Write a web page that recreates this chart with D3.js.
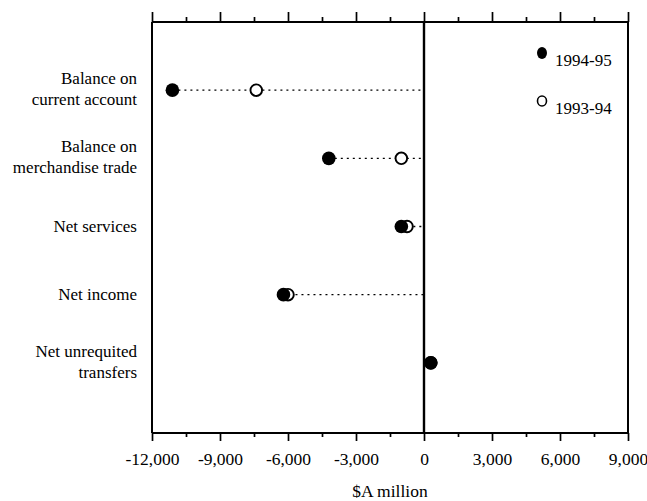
<!DOCTYPE html>
<html>
<head>
<meta charset="utf-8">
<script src="https://cdn.jsdelivr.net/npm/d3@7"></script>
<style>
  html, body { margin: 0; padding: 0; background: #fff; }
  svg { display: block; }
</style>
</head>
<body>
<svg id="chart" width="647" height="501"></svg>
<script>
// ---- data ----
const categories = [
  ["Balance on", "current account"],
  ["Balance on", "merchandise trade"],
  ["Net services"],
  ["Net income"],
  ["Net unrequited", "transfers"]
];
const categoryKeys = ["current", "merchandise", "services", "income", "transfers"];
const values9495 = [-11100, -4200, -1000, -6200, 300];
const values9394 = [-7400, -1000, -750, -6000, 300];
const seriesNames = ["1994-95", "1993-94"];
const majorTicks = [-12000, -9000, -6000, -3000, 0, 3000, 6000, 9000];
const tickLabels = ["-12,000", "-9,000", "-6,000", "-3,000", "0", "3,000", "6,000", "9,000"];
const minorTicks = [-10500, -7500, -4500, -1500, 1500, 4500, 7500];
const axisTitle = "$A million";

// ---- layout ----
const FONT = '"Liberation Serif", "DejaVu Serif", "Times New Roman", serif';
const svg = d3.select("#chart");
const pL = 152, pR = 628, pT = 22, pB = 433;

const x = d3.scaleLinear().domain([-12000, 9000]).range([pL, pR]);
const y = d3.scalePoint().domain(categoryKeys).range([pT, pB - 2]).padding(1);

function txt(sel, size) {
  return sel.style("font-family", FONT).style("font-size", size + "px").attr("fill", "#000");
}

// frame
svg.append("line").attr("x1", pL).attr("x2", pR).attr("y1", pT).attr("y2", pT)
  .attr("stroke", "#000").attr("stroke-width", 1.8);
svg.append("line").attr("x1", pL).attr("x2", pR).attr("y1", pB).attr("y2", pB)
  .attr("stroke", "#000").attr("stroke-width", 1.8);
svg.append("line").attr("x1", pL).attr("x2", pL).attr("y1", pT).attr("y2", pB)
  .attr("stroke", "#000").attr("stroke-width", 2);
svg.append("line").attr("x1", pR).attr("x2", pR).attr("y1", pT).attr("y2", pB)
  .attr("stroke", "#000").attr("stroke-width", 2);

// top axis (ticks only)
const topMajor = svg.append("g").attr("transform", `translate(0,${pT})`)
  .call(d3.axisTop(x).tickValues(majorTicks).tickSize(10).tickFormat(""));
const topMinor = svg.append("g").attr("transform", `translate(0,${pT})`)
  .call(d3.axisTop(x).tickValues(minorTicks).tickSize(5).tickFormat(""));
// bottom axis
const botMajor = svg.append("g").attr("transform", `translate(0,${pB})`)
  .call(d3.axisBottom(x).tickValues(majorTicks).tickSize(8).tickPadding(12)
    .tickFormat((d, i) => tickLabels[i]));
const botMinor = svg.append("g").attr("transform", `translate(0,${pB})`)
  .call(d3.axisBottom(x).tickValues(minorTicks).tickSize(4).tickFormat(""));

[topMajor, topMinor, botMajor, botMinor].forEach(g => {
  g.attr("font-family", null);
  g.select(".domain").remove();
  g.selectAll(".tick line").attr("stroke", "#000").attr("stroke-width", 1.7);
});
txt(botMajor.selectAll(".tick text"), 17.5);

// axis title
txt(svg.append("text").attr("x", x(0) - 34).attr("y", 497)
  .attr("text-anchor", "middle"), 17.5).text(axisTitle);

// zero line
svg.append("line").attr("x1", x(0)).attr("x2", x(0)).attr("y1", pT).attr("y2", pB)
  .attr("stroke", "#000").attr("stroke-width", 2.4);

// category labels
const labels = svg.append("g");
categoryKeys.forEach((k, i) => {
  const lines = categories[i];
  const cy = y(k);
  const t = txt(labels.append("text").attr("text-anchor", "end"), 17);
  if (lines.length === 1) {
    t.append("tspan").attr("x", 137).attr("y", cy + 5).text(lines[0]);
  } else {
    t.append("tspan").attr("x", 137).attr("y", cy - 6).text(lines[0]);
    t.append("tspan").attr("x", 137).attr("y", cy + 15).text(lines[1]);
  }
});

// dotted connectors from leftmost value to zero
const rows = categoryKeys.map((k, i) => ({ k, a: values9495[i], b: values9394[i] }));
svg.append("g").selectAll("line").data(rows).join("line")
  .attr("x1", d => x(Math.min(d.a, d.b, 0)))
  .attr("x2", d => x(Math.max(d.a, d.b, 0)))
  .attr("y1", d => y(d.k)).attr("y2", d => y(d.k))
  .attr("stroke", "#000").attr("stroke-width", 1.4)
  .attr("stroke-dasharray", "2,4");

// 1993-94 open circles (drawn beneath)
svg.append("g").selectAll("circle").data(rows).join("circle")
  .attr("cx", d => x(d.b)).attr("cy", d => y(d.k)).attr("r", 5.8)
  .attr("fill", "#fff").attr("stroke", "#000").attr("stroke-width", 1.9);
// 1994-95 filled circles
svg.append("g").selectAll("circle").data(rows).join("circle")
  .attr("cx", d => x(d.a)).attr("cy", d => y(d.k)).attr("r", 6.8)
  .attr("fill", "#000");

// legend
const lg = svg.append("g");
lg.append("ellipse").attr("cx", 542).attr("cy", 53).attr("rx", 5).attr("ry", 6).attr("fill", "#000");
txt(lg.append("text").attr("x", 555).attr("y", 66), 17).text(seriesNames[0]);
lg.append("ellipse").attr("cx", 542).attr("cy", 101).attr("rx", 4.5).attr("ry", 5)
  .attr("fill", "#fff").attr("stroke", "#000").attr("stroke-width", 1.6);
txt(lg.append("text").attr("x", 555).attr("y", 114), 17).text(seriesNames[1]);
</script>
</body>
</html>
